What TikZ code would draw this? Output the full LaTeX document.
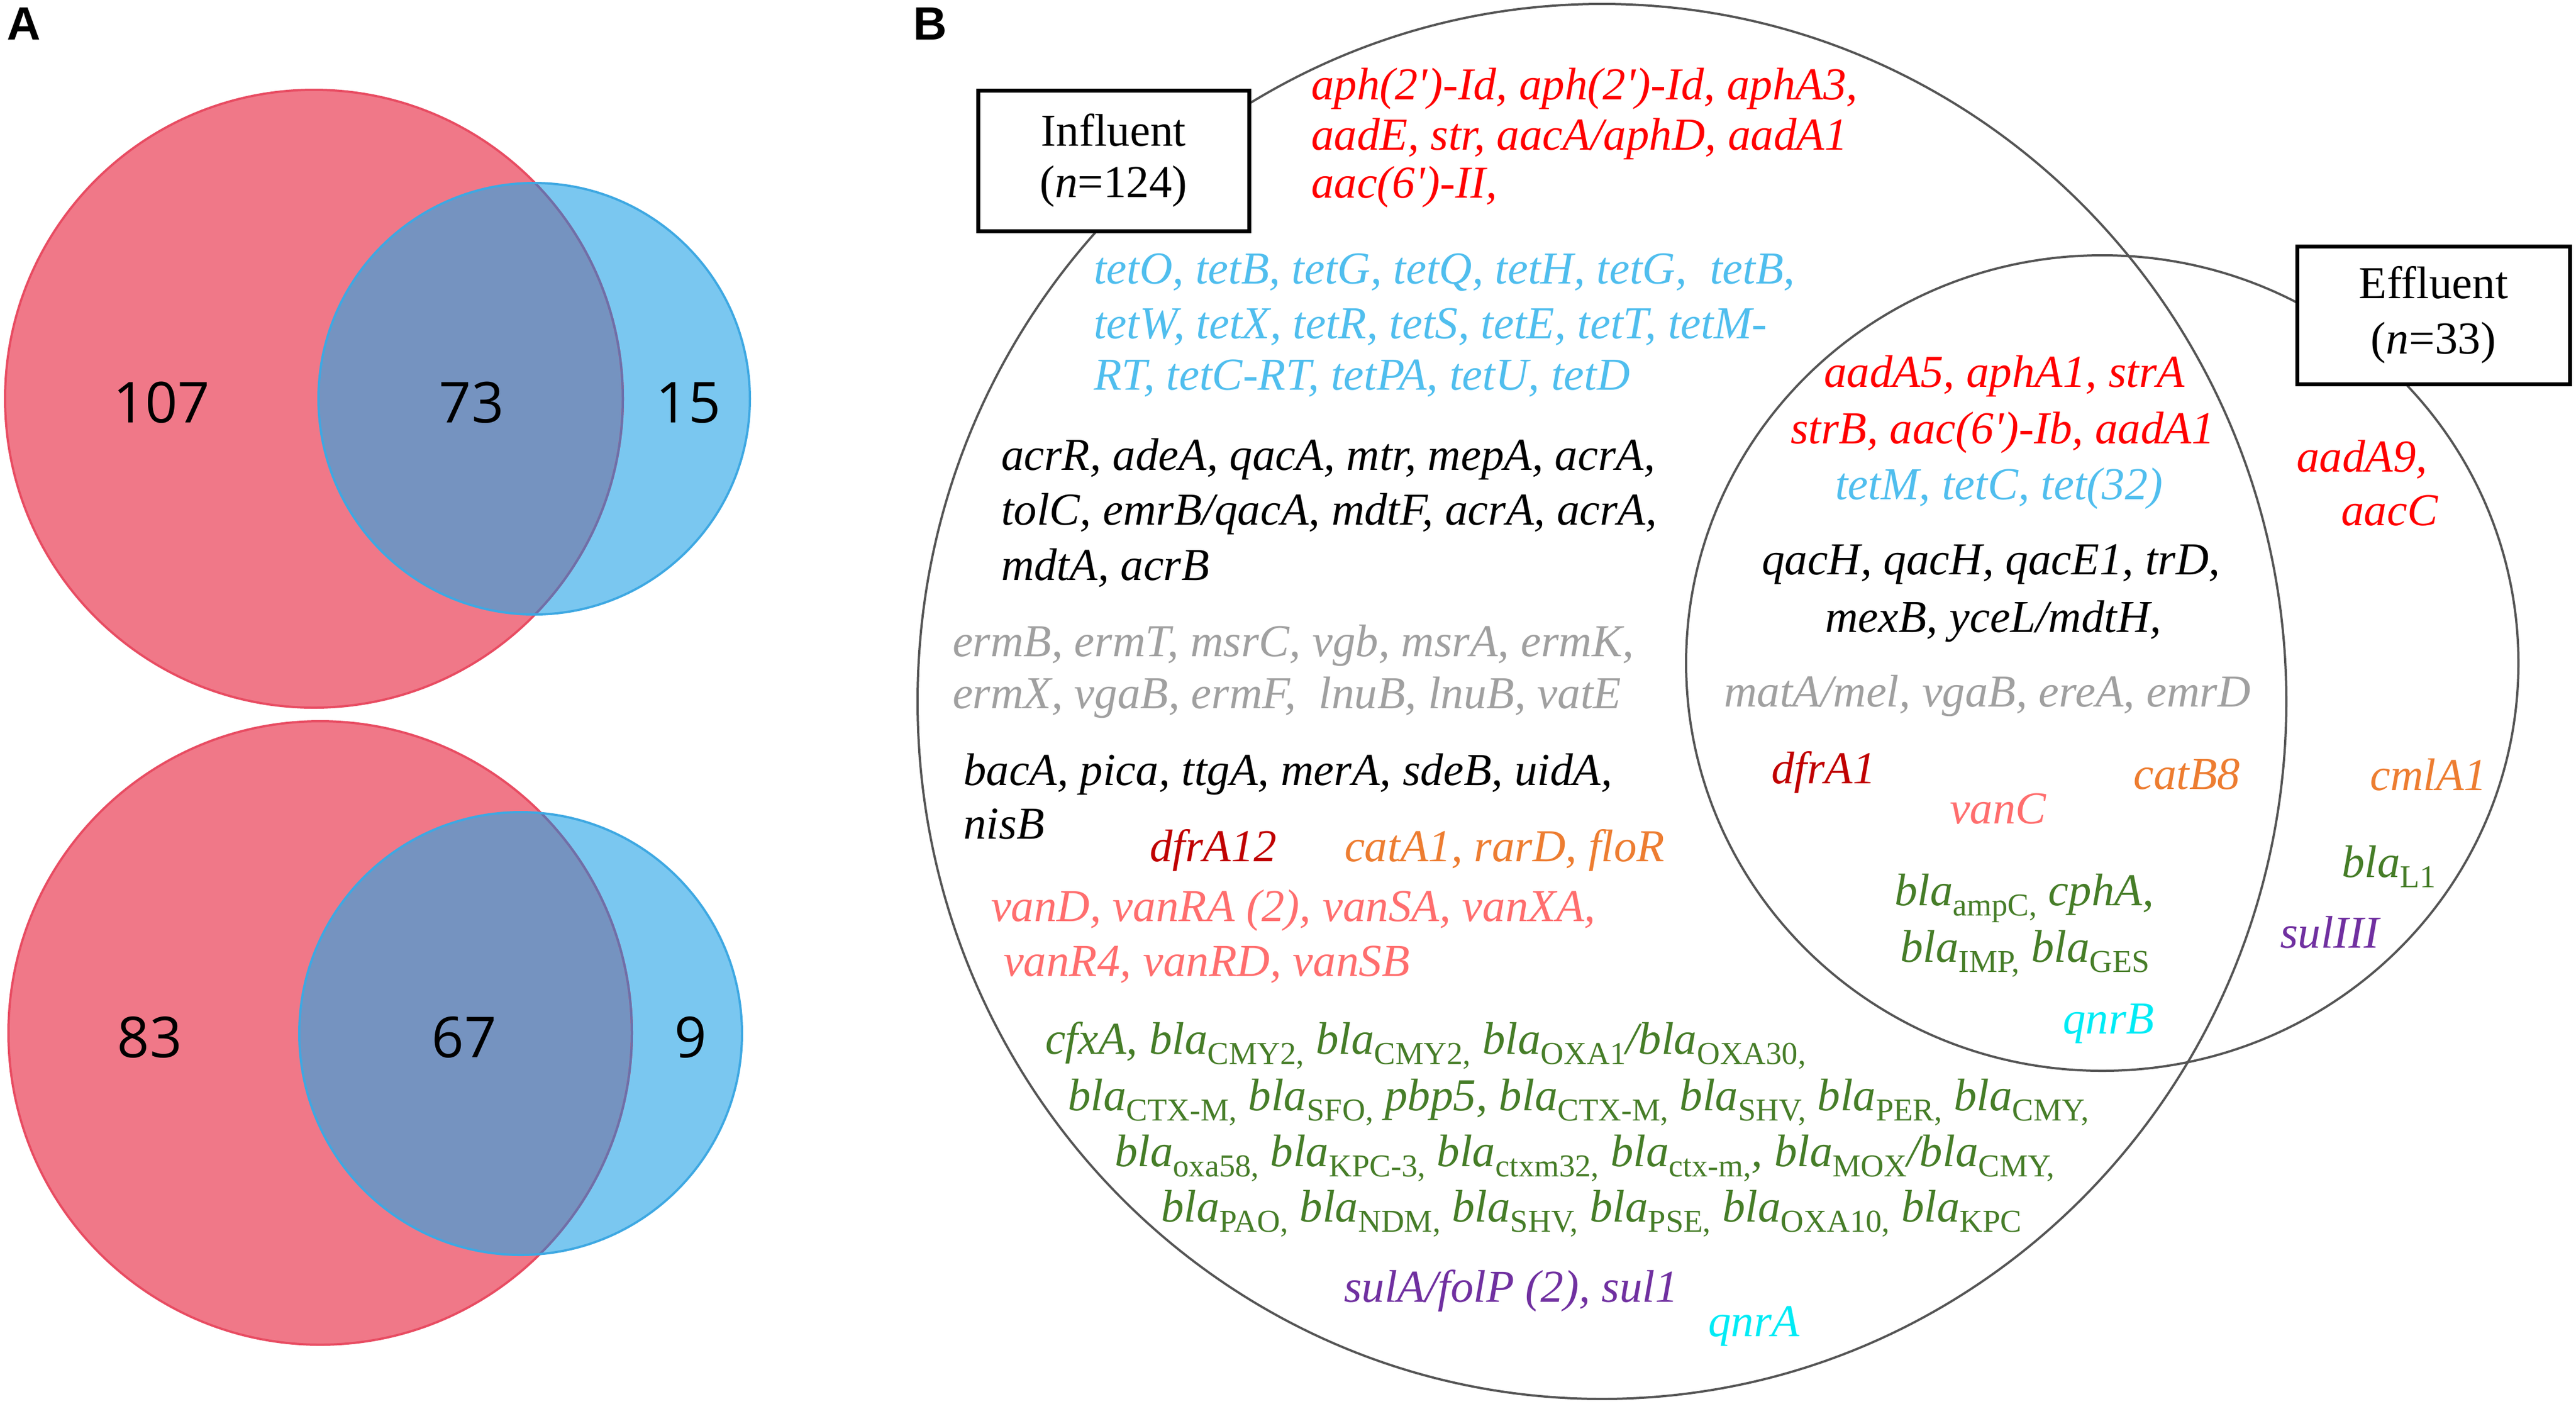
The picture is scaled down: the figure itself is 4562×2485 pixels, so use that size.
\documentclass[tikz,border=0pt]{standalone}
\usepackage{fontspec}
\setmainfont{Liberation Serif}
\newfontfamily\numfont{Open Sans}
\newfontfamily\labfont{Liberation Sans}
\definecolor{vred}{RGB}{240,120,136}
\definecolor{vredline}{RGB}{232,76,98}
\definecolor{vredin}{RGB}{108,112,170}
\definecolor{vblue}{RGB}{122,199,240}
\definecolor{vblueline}{RGB}{62,168,226}
\definecolor{vmix}{RGB}{117,147,192}
\definecolor{gred}{RGB}{255,0,0}
\definecolor{gtet}{RGB}{80,190,238}
\definecolor{ggrey}{RGB}{160,160,160}
\definecolor{gdark}{RGB}{192,0,0}
\definecolor{gorange}{RGB}{237,125,49}
\definecolor{gpink}{RGB}{255,110,110}
\definecolor{ggreen}{RGB}{70,125,40}
\definecolor{gpurple}{RGB}{112,48,160}
\definecolor{gcyan}{RGB}{0,235,245}
\definecolor{circ}{RGB}{85,85,85}
\newcommand\genefont{\fontsize{16.2}{19}\selectfont\itshape}
\newcommand\gs[1]{\raisebox{-3.6pt}{\fontsize{11.3}{11.3}\selectfont\upshape #1}}
\newcommand\pr{\textquotesingle}
\tikzset{
  gene/.style={anchor=base west, inner sep=0pt, font=\genefont},
  num/.style={inner sep=0pt, font=\numfont\fontsize{20}{24}\selectfont},
  panel/.style={anchor=north west, inner sep=0pt, font=\labfont\bfseries\fontsize{16.5}{18}\selectfont},
  setbox/.style={draw=black, fill=white, line width=1.4pt, inner sep=0pt, align=center, font=\fontsize{16.2}{18.2}\selectfont},
  setline/.style={draw=circ, line width=0.8pt}
}
\begin{document}
\begin{tikzpicture}[x=0.2pt,y=-0.2pt]
\useasboundingbox (0,0) rectangle (4562,2485);
% ---------- Panel A ----------
\node[panel] (labA) at (12,13) {A};
% top Venn
\fill[vred] (556,706) circle [radius=547];
\fill[vblue] (946,706) circle [radius=382];
\begin{scope}
  \clip (556,706) circle [radius=547];
  \fill[vmix] (946,706) circle [radius=382];
\end{scope}
\draw[vredline, line width=0.8pt] (556,706) circle [radius=547];
\begin{scope}
  \clip (946,706) circle [radius=382];
  \draw[vredin, line width=0.8pt] (556,706) circle [radius=547];
\end{scope}
\draw[vblueline, line width=0.8pt] (946,706) circle [radius=382];
\node[num] (t107) at (286,713) {107};
\node[num] (t73) at (835,713) {73};
\node[num] (t15) at (1219,713) {15};
% bottom Venn
\fill[vred] (567,1829) circle [radius=552];
\fill[vblue] (922,1830) circle [radius=392];
\begin{scope}
  \clip (567,1829) circle [radius=552];
  \fill[vmix] (922,1830) circle [radius=392];
\end{scope}
\draw[vredline, line width=0.8pt] (567,1829) circle [radius=552];
\begin{scope}
  \clip (922,1830) circle [radius=392];
  \draw[vredin, line width=0.8pt] (567,1829) circle [radius=552];
\end{scope}
\draw[vblueline, line width=0.8pt] (922,1830) circle [radius=392];
\node[num] (t83) at (265,1837) {83};
\node[num] (t67) at (822,1837) {67};
\node[num] (t9) at (1223,1837) {9};
% ---------- Panel B ----------
\node[panel] (labB) at (1616,13) {B};
\draw[setline] (2837,1242) ellipse [x radius=1212, y radius=1235];
\draw[setline] (3723,1174) ellipse [x radius=737, y radius=722];
\node[setbox, minimum width=96pt, minimum height=49.8pt] (influent) at (1972,284.5) {Influent\\(\textit{n}=124)};
\node[setbox, minimum width=96.6pt, minimum height=48.8pt, font=\fontsize{16.2}{19.6}\selectfont] (effluent) at (4309.5,558) {Effluent\\(\textit{n}=33)};
% influent only
\node[gene, text=gred] (r1) at (2321,176) {aph(2\pr)-Id, aph(2\pr)-Id, aphA3,};
\node[gene, text=gred] (r2) at (2321,265) {aadE, str, aacA/aphD, aadA1};
\node[gene, text=gred] (r3) at (2321,350) {aac(6\pr)-II,};
\node[gene, text=gtet] (c1) at (1936,502) {tetO, tetB, tetG, tetQ, tetH, tetG,\ \ tetB,};
\node[gene, text=gtet] (c2) at (1936,599) {tetW, tetX, tetR, tetS, tetE, tetT, tetM-};
\node[gene, text=gtet] (c3) at (1936,690) {RT, tetC-RT, tetPA, tetU, tetD};
\node[gene, text=black] (k1) at (1772,832) {acrR, adeA, qacA, mtr, mepA, acrA,};
\node[gene, text=black] (k2) at (1772,929) {tolC, emrB/qacA, mdtF, acrA, acrA,};
\node[gene, text=black] (k3) at (1772,1027) {mdtA, acrB};
\node[gene, text=ggrey] (g1) at (1686,1162) {ermB, ermT, msrC, vgb, msrA, ermK,};
\node[gene, text=ggrey] (g2) at (1686,1254) {ermX, vgaB, ermF,\ \ lnuB, lnuB, vatE};
\node[gene, text=black] (m1) at (1705,1390) {bacA, pica, ttgA, merA, sdeB, uidA,};
\node[gene, text=black] (m2) at (1705,1485) {nisB};
\node[gene, text=gdark] (d1) at (2035,1525) {dfrA12};
\node[gene, text=gorange] (o1) at (2380,1525) {catA1, rarD, floR};
\node[gene, text=gpink] (p1) at (1754,1631) {vanD, vanRA (2), vanSA, vanXA,};
\node[gene, text=gpink] (p2) at (1776,1728) {vanR4, vanRD, vanSB};
\node[gene, text=ggreen] (b1) at (1850,1866) {cfxA, bla\gs{CMY2,} bla\gs{CMY2,} bla\gs{OXA1}/bla\gs{OXA30,}};
\node[gene, text=ggreen] (b2) at (1890,1966) {bla\gs{CTX-M,} bla\gs{SFO,} pbp5, bla\gs{CTX-M,} bla\gs{SHV,} bla\gs{PER,} bla\gs{CMY,}};
\node[gene, text=ggreen] (b3) at (1973,2065) {bla\gs{oxa58,} bla\gs{KPC-3,} bla\gs{ctxm32,} bla\gs{ctx-m,}, bla\gs{MOX}/bla\gs{CMY,}};
\node[gene, text=ggreen] (b4) at (2055,2163) {bla\gs{PAO,} bla\gs{NDM,} bla\gs{SHV,} bla\gs{PSE,} bla\gs{OXA10,} bla\gs{KPC}};
\node[gene, text=gpurple] (s1) at (2379,2305) {sulA/folP (2), sul1};
\node[gene, text=gcyan] (q1) at (3024,2366) {qnrA};
% shared
\node[gene, text=gred] (ir1) at (3229,685) {aadA5, aphA1, strA};
\node[gene, text=gred] (ir2) at (3170,785) {strB, aac(6\pr)-Ib, aadA1};
\node[gene, text=gtet] (ic1) at (3249,884) {tetM, tetC, tet(32)};
\node[gene, text=black] (ik1) at (3119,1017) {qacH, qacH, qacE1, trD,};
\node[gene, text=black] (ik2) at (3231,1119) {mexB, yceL/mdtH,};
\node[gene, text=ggrey] (ig1) at (3052,1251) {matA/mel, vgaB, ereA, emrD};
\node[gene, text=gdark] (id1) at (3136,1387) {dfrA1};
\node[gene, text=gpink] (ip1) at (3452,1458) {vanC};
\node[gene, text=gorange] (io1) at (3777,1397) {catB8};
\node[gene, text=ggreen] (ib1) at (3354,1603) {bla\gs{ampC,} cphA,};
\node[gene, text=ggreen] (ib2) at (3364,1703) {bla\gs{IMP,} bla\gs{GES}};
\node[gene, text=gcyan] (iq1) at (3652,1830) {qnrB};
% effluent only
\node[gene, text=gred] (er1) at (4066,835) {aadA9,};
\node[gene, text=gred] (er2) at (4145,930) {aacC};
\node[gene, text=gorange] (eo1) at (4196,1399) {cmlA1};
\node[gene, text=ggreen] (eb1) at (4146,1553) {bla\gs{L1}};
\node[gene, text=gpurple] (es1) at (4037,1678) {sulIII};
\end{tikzpicture}
\end{document}
